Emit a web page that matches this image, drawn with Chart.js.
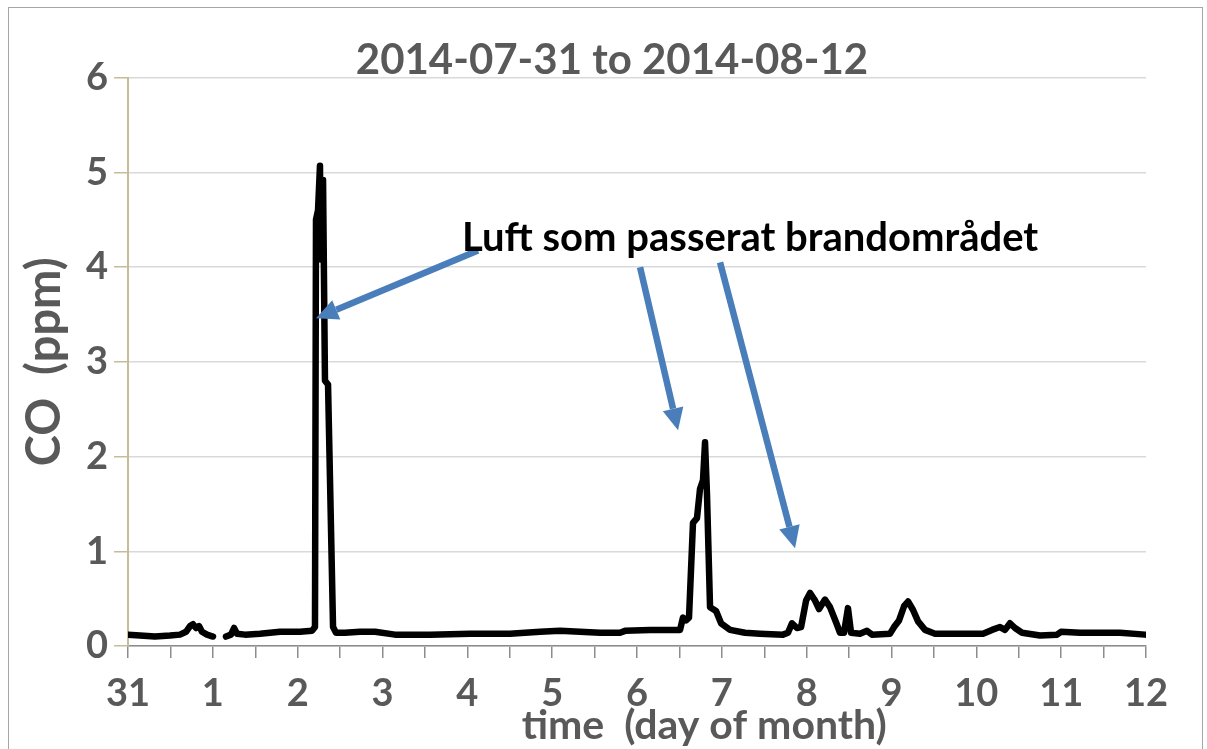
<!DOCTYPE html>
<html><head><meta charset="utf-8">
<script src="https://cdn.jsdelivr.net/npm/chart.js@4.4.1/dist/chart.umd.min.js"></script>
<style>
html,body{margin:0;padding:0;background:#fff;}
#wrap{position:relative;width:1207px;height:749px;overflow:hidden;}
#frame{position:absolute;left:8px;top:7px;width:1195px;height:780px;border:1.5px solid #a6a6a6;box-sizing:border-box;pointer-events:none;}
canvas{position:absolute;left:0;top:0;}
</style></head><body>
<div id="wrap"><canvas id="c" width="1207" height="749"></canvas><div id="frame"></div></div>
<script>
// ---- data ----
const chartTitle = '2014-07-31 to 2014-08-12';
const xTitle = 'time  (day of month)';
const yTitle = 'CO  (ppm)';
const dayLabels = ['31','1','2','3','4','5','6','7','8','9','10','11','12'];
const yTicks = [0,1,2,3,4,5,6];
// time in days since 2014-07-31 00:00
const timeDays = [0.000,0.141,0.318,0.495,0.613,0.684,0.731,0.766,0.802,0.837,0.872,0.931,1.002,
  1.080,
  1.155,1.214,1.250,1.285,1.379,1.556,1.792,2.028,2.169,2.204,2.216,2.240,2.263,2.272,2.299,2.322,2.358,2.417,2.452,
  2.558,2.735,2.912,3.147,3.560,4.032,4.503,4.857,5.093,5.328,5.564,5.800,5.859,6.154,6.507,6.542,6.578,6.613,
  6.660,6.707,6.743,6.778,6.802,6.825,6.861,6.932,6.991,7.097,7.273,7.450,7.721,7.780,7.827,7.886,7.934,7.993,
  8.040,8.099,8.146,8.216,8.275,8.346,8.393,8.440,8.487,8.523,8.629,8.711,8.770,8.983,9.030,9.089,9.148,9.195,
  9.254,9.313,9.395,9.513,9.808,10.079,10.185,10.279,10.338,10.397,10.456,10.539,10.751,10.951,10.998,11.222,
  11.694,11.989];
const coPpm = [0.12,0.11,0.10,0.11,0.12,0.15,0.21,0.23,0.19,0.21,0.15,0.12,0.10,
  null,
  0.10,0.12,0.19,0.13,0.12,0.13,0.15,0.15,0.16,0.20,4.50,4.60,5.07,4.08,4.92,2.80,2.76,0.20,0.14,
  0.14,0.15,0.15,0.12,0.12,0.13,0.13,0.15,0.16,0.15,0.14,0.14,0.16,0.17,0.17,0.30,0.27,0.30,
  1.30,1.35,1.66,1.75,2.15,1.60,0.41,0.37,0.24,0.17,0.14,0.13,0.12,0.14,0.24,0.19,0.20,0.48,
  0.56,0.48,0.39,0.49,0.41,0.25,0.14,0.14,0.40,0.14,0.13,0.16,0.12,0.13,0.20,0.27,0.42,0.47,
  0.38,0.26,0.17,0.13,0.13,0.13,0.17,0.20,0.17,0.24,0.19,0.14,0.11,0.12,0.15,0.14,
  0.14,0.12];
// annotation
const noteText = 'Luft som passerat brandområdet';
const noteAt = [3.937, 4.31];           // [day, ppm] left-middle of text
const arrowTails = [[4.126,4.176],[6.036,3.997],[6.979,4.049]];
const arrowTips  = [[2.216,3.459],[6.484,2.278],[7.863,1.033]];

const points = timeDays.map((d,i)=>({x:d,y:coPpm[i]}));
const GRAY = '#595959';

const notePlugin = {
  id:'note',
  afterDatasetsDraw(chart){
    const {ctx, chartArea, scales:{x,y}} = chart;
    ctx.save();
    ctx.strokeStyle = '#4a7ebb';
    ctx.fillStyle = '#4a7ebb';
    ctx.lineWidth = 6.5;
    for(let i=0;i<arrowTails.length;i++){
      const x0=x.getPixelForValue(arrowTails[i][0]), y0=y.getPixelForValue(arrowTails[i][1]);
      const x1=x.getPixelForValue(arrowTips[i][0]), y1=y.getPixelForValue(arrowTips[i][1]);
      const a=Math.atan2(y1-y0,x1-x0), L=22, W=10.5;
      const bx=x1-L*Math.cos(a), by=y1-L*Math.sin(a);
      ctx.beginPath(); ctx.moveTo(x0,y0); ctx.lineTo(bx,by); ctx.stroke();
      ctx.beginPath(); ctx.moveTo(x1,y1);
      ctx.lineTo(bx+W*Math.sin(a), by-W*Math.cos(a));
      ctx.lineTo(bx-W*Math.sin(a), by+W*Math.cos(a));
      ctx.closePath(); ctx.fill();
    }
    ctx.fillStyle='#000';
    ctx.font='bold 40px Lato';
    ctx.textAlign='left'; ctx.textBaseline='middle';
    ctx.fillText(noteText, x.getPixelForValue(noteAt[0]), y.getPixelForValue(noteAt[1]));
    // x axis title (sits slightly right of centre, overlapping the tick-label band as in the original)
    ctx.fillStyle=GRAY;
    ctx.font='bold 41px Lato';
    ctx.textAlign='center'; ctx.textBaseline='middle';
    ctx.fillText(xTitle, chartArea.left + 0.566*(chartArea.right-chartArea.left), chartArea.bottom + 80);
    ctx.restore();
  }
};

new Chart(document.getElementById('c'), {
  type:'line',
  data:{datasets:[{data:points,borderColor:'#000',borderWidth:6.5,pointRadius:0,tension:0,
    spanGaps:false,borderJoinStyle:'round',borderCapStyle:'round',fill:false}]},
  options:{
    responsive:false, animation:false,
    layout:{padding:{left:17,right:0,top:0,bottom:0}},
    plugins:{
      legend:{display:false}, tooltip:{enabled:false},
      title:{display:true,text:chartTitle,color:GRAY,font:{family:'Lato',weight:'bold',size:42,lineHeight:0.8},
        padding:{top:44,bottom:0}}
    },
    scales:{
      x:{type:'linear',min:0,max:12,
        afterFit(s){ s.height=103; },
        afterBuildTicks(s){ s.ticks=[]; for(let i=0;i<=24;i++) s.ticks.push({value:i/2}); },
        ticks:{autoSkip:false,maxRotation:0,minRotation:0,padding:13,color:GRAY,
          font:{family:'Lato',weight:'bold',size:38},
          callback:(v)=> Number.isInteger(v) ? dayLabels[v] : ''},
        grid:{drawOnChartArea:false,drawTicks:true,tickLength:12,color:'#8c8c8c',lineWidth:1.5},
        border:{color:'#8c8c8c',width:1.5},
        title:{display:false}
      },
      y:{min:0,max:6,
        afterFit(s){ s.width=111; },
        afterBuildTicks(s){ s.ticks=yTicks.map(v=>({value:v})); },
        ticks:{padding:6,color:GRAY,font:{family:'Lato',weight:'bold',size:38}},
        grid:{color:'#d9d9d9',lineWidth:1.5,tickColor:'#c4bd97',tickLength:14,drawTicks:true},
        border:{color:'#c4bd97',width:2},
        title:{display:true,text:yTitle,color:GRAY,font:{family:'Lato',weight:'bold',size:47,lineHeight:1.2},
          padding:{top:0,bottom:0}}
      },
      pad:{position:'right',display:true,
        afterFit(s){ s.width=61; },
        ticks:{display:false},grid:{display:false},border:{display:false}}
    }
  },
  plugins:[notePlugin]
});
</script>
</body></html>
